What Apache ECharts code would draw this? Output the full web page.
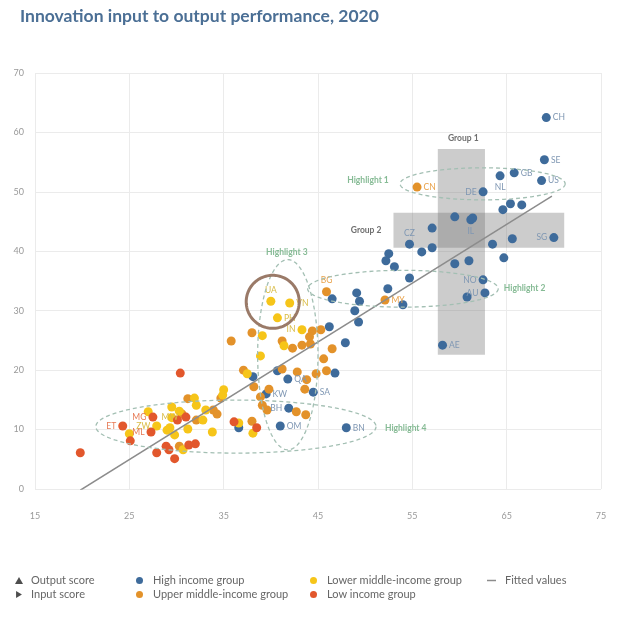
<!DOCTYPE html>
<html><head><meta charset="utf-8">
<script src="https://cdn.jsdelivr.net/npm/echarts/dist/echarts.min.js"></script>
<style>html,body{margin:0;padding:0;background:#fff}#c{width:625px;height:627px}</style>
</head><body><div id="c"></div>
<script>
// ---- data (input score x, output score y) ----
const highX = [69.2, 69.0, 68.7, 65.8, 64.3, 62.5, 65.4, 66.6, 64.6, 59.5, 61.2, 61.4, 57.1, 54.7, 56.0, 57.1, 52.5, 52.2, 53.1, 54.7, 52.4, 59.5, 61.0, 63.5, 65.6, 64.7, 70.0, 62.5, 62.7, 60.8, 58.2, 46.5, 49.1, 49.4, 48.9, 49.3, 54.0, 46.2, 47.9, 46.8, 40.7, 38.1, 41.8, 39.5, 44.5, 41.9, 41.0, 36.6, 48.0];
const highY = [62.5, 55.4, 51.9, 53.2, 52.7, 50.0, 48.0, 47.8, 47.0, 45.8, 45.3, 45.6, 43.9, 41.2, 39.9, 40.6, 39.6, 38.4, 37.4, 35.5, 33.7, 37.9, 38.4, 41.2, 42.1, 38.9, 42.3, 35.2, 33.0, 32.3, 24.2, 32.0, 33.0, 31.6, 30.0, 28.1, 31.0, 27.3, 24.6, 19.5, 19.9, 18.9, 18.5, 16.0, 16.3, 13.6, 10.6, 10.3, 10.3];
const highCode = ['CH','SE','US','GB','NL','DE','','','','','IL','','','CZ','','','','','','','','','','','','','SG','NO','AU','','AE','','','','','','','','','','','','QA','KW','SA','BH','OM','','BN'];

const umX = [55.5, 45.9, 52.1, 35.8, 38.0, 41.2, 42.3, 43.3, 44.2, 44.4, 45.3, 44.1, 46.5, 45.6, 37.1, 41.2, 42.8, 43.8, 44.8, 45.9, 38.2, 39.8, 43.6, 38.9, 39.1, 39.6, 42.7, 43.7, 31.2, 33.9, 34.3, 32.1, 34.7, 30.6, 38.0, 30.3];
const umY = [50.8, 33.2, 31.8, 24.9, 26.3, 24.9, 23.7, 24.2, 24.4, 26.6, 26.8, 25.6, 23.6, 21.9, 20.0, 20.2, 19.7, 18.4, 19.4, 19.9, 17.2, 16.8, 16.8, 15.5, 14.1, 13.3, 13.0, 12.5, 15.2, 13.3, 12.6, 11.6, 15.3, 12.6, 11.4, 7.2];
const umCode = ['CN','BG','MY'];

const lmX = [40.0, 42.0, 40.7, 43.3, 39.1, 41.4, 38.9, 37.5, 35.0, 34.9, 31.9, 32.1, 29.5, 30.3, 27.0, 29.5, 32.8, 33.1, 27.9, 29.0, 29.3, 25.0, 29.8, 31.2, 33.8, 36.6, 38.1, 30.7];
const lmY = [31.6, 31.3, 28.8, 26.8, 25.8, 24.1, 22.4, 19.4, 16.7, 15.8, 15.3, 14.1, 13.8, 13.1, 13.0, 12.0, 11.6, 13.3, 10.6, 9.9, 10.3, 9.3, 9.1, 10.1, 9.6, 11.1, 9.4, 6.6];
const lmCode = ['UA','VN','PH','IN','','','','','','','','','','','','','','','ZW','','MW'];

const lowX = [30.4, 19.8, 24.3, 27.5, 27.3, 31.0, 30.1, 25.1, 28.9, 29.2, 27.9, 31.3, 32.0, 29.8, 36.1, 38.5];
const lowY = [19.5, 6.1, 10.6, 12.1, 9.6, 12.1, 11.6, 8.1, 7.2, 6.6, 6.1, 7.4, 7.6, 5.1, 11.3, 10.3];
const lowCode = ['','','ET','MG','ML'];

const fittedX = [19.8, 69.8];
const fittedY = [-0.2, 49.3];

const xTicks = [15, 25, 35, 45, 55, 65, 75];
const yTicks = [0, 10, 20, 30, 40, 50, 60, 70];

const seriesNames = ['High income group','Upper middle-income group','Lower middle-income group','Low income group'];

// ---- annotations (data units) ----
const groupBoxes = [[57.7, 57.2, 62.7, 22.6], [53.0, 46.5, 71.1, 40.6]];
const noteText = ['Group 1','Group 2','Highlight 1','Highlight 2','Highlight 3','Highlight 4'];
const noteX = [60.4, 50.1, 50.3, 66.9, 41.7, 54.3];
const noteY = [59.1, 43.6, 51.9, 33.8, 39.9, 10.3];
const ovalCx = [62.45, 54.0, 41.8, 36.3, 40.2];
const ovalCy = [51.35, 33.7, 22.6, 10.5, 31.5];
const ovalRx = [8.75, 10.1, 3.2, 14.85, 2.81];
const ovalRy = [2.7, 3.1, 16.0, 4.46, 4.46];

// ---- styles ----
const colors = ['#3e6b9b', '#e3922a', '#f6c519', '#e2572c'];
const labelColors = ['#7f97b3', '#e9a24a', '#d9bb45', '#e77a55'];
const labelPlacement = {CH:'right', SE:'right', US:'right', GB:'right', NL:'bottom', DE:'left', IL:'bottom', CZ:'top', SG:'left', NO:'left', AU:'left', AE:'right', QA:'right', KW:'right', SA:'right', BH:'left', OM:'right', BN:'right', CN:'right', BG:'top', MY:'right', UA:'top', VN:'right', PH:'right', IN:'left', ET:'left', MG:'left', ML:'left', ZW:'left', MW:'top'};
const FONT = 'Lato';

function build(xs, ys, codes, ci) {
  return xs.map(function (x, i) {
    const code = codes[i];
    const d = { value: [x, ys[i]] };
    if (code) {
      d.name = code;
      d.label = { show: true, position: labelPlacement[code] || 'right', distance: 2,
        formatter: code, color: labelColors[ci], fontSize: 8.5, fontFamily: FONT };
    }
    return d;
  });
}

const chart = echarts.init(document.getElementById('c'));

const scatterSeries = [[highX, highY, highCode], [umX, umY, umCode], [lmX, lmY, lmCode], [lowX, lowY, lowCode]].map(function (s, i) {
  return {
    name: seriesNames[i], type: 'scatter', symbol: 'circle', symbolSize: 9, z: 3,
    itemStyle: { color: colors[i], opacity: 1 },
    label: { show: false },
    emphasis: { disabled: true },
    data: build(s[0], s[1], s[2], i)
  };
});

const option = {
  animation: false,
  backgroundColor: '#fff',
  textStyle: { fontFamily: FONT },
  title: {
    text: 'Innovation input to output performance, 2020',
    left: 15, top: 2,
    textStyle: { color: '#4b6f95', fontSize: 17.5, fontWeight: 'bold', fontFamily: FONT }
  },
  grid: { left: 35, right: 24, top: 73, bottom: 138 },
  xAxis: {
    type: 'value', min: xTicks[0], max: xTicks[xTicks.length - 1], interval: 10,
    axisLine: { show: false }, axisTick: { show: false },
    axisLabel: { color: '#999', fontSize: 9, margin: 23, fontFamily: FONT },
    splitLine: { show: true, lineStyle: { color: '#ebebeb', width: 1 } }
  },
  yAxis: {
    type: 'value', min: yTicks[0], max: yTicks[yTicks.length - 1], interval: 10,
    axisLine: { show: false }, axisTick: { show: false },
    axisLabel: { color: '#999', fontSize: 9, margin: 11, fontFamily: FONT },
    splitLine: { show: true, lineStyle: { color: '#ebebeb', width: 1 } }
  },
  legend: [
    { left: 10, top: 570, orient: 'vertical', itemGap: 3, itemWidth: 8, itemHeight: 7, selectedMode: false,
      textStyle: { color: '#666', fontSize: 11, fontFamily: FONT, padding: [0, 0, 0, 3] },
      data: [{ name: 'Output score', icon: 'triangle' }, { name: 'Input score', icon: 'path://M0,0L10,6L0,12Z' }] },
    { left: 131, top: 570, orient: 'vertical', itemGap: 3, itemWidth: 7, itemHeight: 7, selectedMode: false,
      textStyle: { color: '#666', fontSize: 11, fontFamily: FONT, padding: [0, 0, 0, 5] },
      data: [{ name: seriesNames[0], icon: 'circle' }, { name: seriesNames[1], icon: 'circle' }] },
    { left: 305, top: 570, orient: 'vertical', itemGap: 3, itemWidth: 7, itemHeight: 7, selectedMode: false,
      textStyle: { color: '#666', fontSize: 11, fontFamily: FONT, padding: [0, 0, 0, 5] },
      data: [{ name: seriesNames[2], icon: 'circle' }, { name: seriesNames[3], icon: 'circle' }] },
    { left: 482, top: 570, orient: 'vertical', itemGap: 3, itemWidth: 9, itemHeight: 1.5, selectedMode: false,
      textStyle: { color: '#666', fontSize: 11, fontFamily: FONT, padding: [0, 0, 0, 4] },
      data: [{ name: 'Fitted values', icon: 'rect' }] }
  ],
  series: [
    { name: 'Output score', type: 'scatter', data: [], itemStyle: { color: '#222' } },
    { name: 'Input score', type: 'scatter', data: [], itemStyle: { color: '#222' } },
    {
      name: 'notes', type: 'custom', z: 1, silent: true,
      data: noteX.map(function (x, i) { return [x, noteY[i]]; }),
      encode: { x: 0, y: 1 },
      renderItem: function (params, api) {
        const i = params.dataIndex;
        const c = api.coord([noteX[i], noteY[i]]);
        const isGroup = noteText[i].indexOf('Group') === 0;
        return { type: 'text', x: c[0], y: c[1],
          style: { text: noteText[i], fill: isGroup ? '#6f6f6f' : '#86bb95',
            font: 'bold 8.5px ' + FONT, align: 'center', verticalAlign: 'middle',
            textAlign: 'center', textVerticalAlign: 'middle' } };
      },
      markArea: {
        silent: true,
        itemStyle: { color: 'rgba(120,120,120,0.38)' },
        label: { show: false },
        data: groupBoxes.map(function (b) { return [{ coord: [b[0], b[1]] }, { coord: [b[2], b[3]] }]; })
      }
    },
    scatterSeries[0], scatterSeries[1], scatterSeries[2], scatterSeries[3],
    {
      name: 'Fitted values', type: 'line', z: 4, symbol: 'none', silent: true,
      itemStyle: { color: '#8c8c8c' },
      lineStyle: { color: '#8c8c8c', width: 1.5 },
      data: fittedX.map(function (x, i) { return [x, fittedY[i]]; })
    },
    {
      name: 'ovals', type: 'custom', z: 5, silent: true, clip: false,
      data: ovalCx.map(function (x, i) { return [x, ovalCy[i]]; }),
      encode: { x: 0, y: 1 },
      renderItem: function (params, api) {
        const i = params.dataIndex;
        const c = api.coord([ovalCx[i], ovalCy[i]]);
        const s = api.size([ovalRx[i], ovalRy[i]]);
        const pts = [];
        for (let k = 0; k < 120; k++) {
          const t = k / 120 * Math.PI * 2;
          pts.push([c[0] + s[0] * Math.cos(t), c[1] + s[1] * Math.sin(t)]);
        }
        const brown = i === 4;
        return { type: 'polygon', shape: { points: pts },
          style: brown ? { fill: 'none', stroke: '#9a7a68', lineWidth: 3 }
                       : { fill: 'none', stroke: '#a3bfb3', lineWidth: 1.3, lineDash: [4, 3] } };
      }
    }
  ]
};
chart.setOption(option);
</script></body></html>
